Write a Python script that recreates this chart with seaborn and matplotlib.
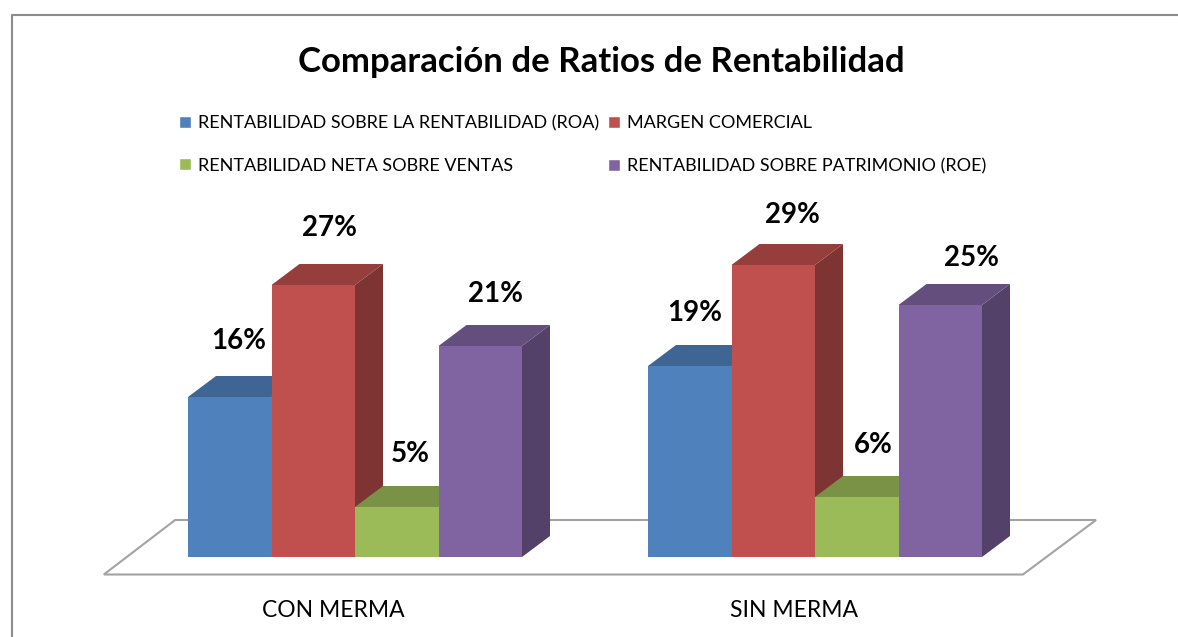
import matplotlib
matplotlib.use("Agg")
import matplotlib.pyplot as plt
from matplotlib.colors import to_rgb
from matplotlib.lines import Line2D
from matplotlib.patches import Polygon
import pandas as pd
import seaborn as sns

groups = ["CON MERMA", "SIN MERMA"]
series = [
    "RENTABILIDAD SOBRE LA RENTABILIDAD (ROA)",
    "MARGEN COMERCIAL",
    "RENTABILIDAD NETA SOBRE VENTAS",
    "RENTABILIDAD SOBRE PATRIMONIO (ROE)",
]
roa = [16.0, 19.1]
margen = [27.2, 29.2]
neta = [5.0, 6.0]
roe = [21.1, 25.2]
colors = ["#4F81BD", "#C0504D", "#9BBB59", "#8064A2"]

W, H = 1178, 637
PX_X = 460.0   # pixels per category
PX_Y = 10.0    # pixels per percent
X0, Y0 = 355.0, 557.0  # pixel position of first group centre and of zero
DX, DY = 28 / PX_X, 21 / PX_Y  # bar depth in data units

# label shift from the bar's front top centre, in pixels
nudge = [[(9, -56), (5, -53)], [(16, -57), (19, -50)],
         [(14, -53), (17, -52)], [(15, -52), (31, -47)]]


def shade(color, factor):
    return tuple(c * factor for c in to_rgb(color))


sns.set_theme(style="white")
plt.rcParams["font.family"] = ["Lato", "DejaVu Sans"]

rows = []
for name, vals in zip(series, [roa, margen, neta, roe]):
    for g, v in zip(groups, vals):
        rows.append({"grupo": g, "serie": name, "valor": v})
df = pd.DataFrame(rows)

fig = plt.figure(figsize=(W / 100, H / 100), dpi=100)
left, right, top, bottom = 12, W, 15, 590
ax = fig.add_axes([left / W, 1 - bottom / H, (right - left) / W, (bottom - top) / H])
ax.patch.set_alpha(0)

sns.barplot(data=df, x="grupo", y="valor", hue="serie", hue_order=series,
            palette=colors, width=334 / PX_X, gap=0, saturation=1, ax=ax)

ax.set_xlim((left - X0) / PX_X, (right - X0) / PX_X)
ax.set_ylim((Y0 - bottom) / PX_Y, (Y0 - top) / PX_Y)

# floor
floor = Polygon([(-0.546, -1.75), (-0.391, 3.7), (1.611, 3.7), (1.452, -1.75)],
                closed=True, facecolor="white", edgecolor="#A3A3A3", linewidth=1.5,
                zorder=1, clip_on=False)
ax.add_patch(floor)

for h, container in enumerate(ax.containers):
    z = 3 + h
    for k, bar in enumerate(container):
        x0, w, v = bar.get_x(), bar.get_width(), bar.get_height()
        x1 = x0 + w
        bar.set_zorder(z + 0.2)
        bar.set_edgecolor("none")
        ax.add_patch(Polygon([(x1, 0), (x1 + DX, DY), (x1 + DX, v + DY), (x1, v)],
                             facecolor=shade(colors[h], 0.65), edgecolor="none", zorder=z))
        ax.add_patch(Polygon([(x0, v), (x0 + DX, v + DY), (x1 + DX, v + DY), (x1, v)],
                             facecolor=shade(colors[h], 0.78), edgecolor="none", zorder=z + 0.1))
        nx, ny = nudge[h][k]
        ax.text(x0 + w / 2 + nx / PX_X, v - ny / PX_Y, f"{v:.0f}%", ha="center", va="center",
                fontsize=20, fontweight="bold", color="black", zorder=10)

# frame of the chart area, only left and top show up
fig.add_artist(Line2D([12 / W, 12 / W, 1], [0, 1 - 15 / H, 1 - 15 / H],
                      color="#8C8C8C", linewidth=1.5))

fig.text(601.5 / W, 1 - 62 / H, "Comparación de Ratios de Rentabilidad", ha="center",
         va="center", fontsize=25, fontweight="bold", color="black")

# two legends so both rows line up, the parentheses change the row height
handles, labels = ax.get_legend_handles_labels()
leg_kw = dict(frameon=False, loc="upper left", bbox_transform=fig.transFigure, fontsize=13,
              handlelength=0.66, handleheight=0.66, handletextpad=0.4, borderpad=0,
              borderaxespad=0, labelcolor="black")
leg1 = ax.legend([handles[0], handles[2]], [labels[0], labels[2]], labelspacing=1.47,
                 bbox_to_anchor=(179 / W, 1 - 115 / H), **leg_kw)
ax.add_artist(leg1)
ax.legend([handles[1], handles[3]], [labels[1], labels[3]], labelspacing=1.52,
          bbox_to_anchor=(608 / W, 1 - 115 / H), **leg_kw)

ax.set_xticks([0 - 22 / PX_X, 1 - 21 / PX_X], groups)
ax.tick_params(axis="x", length=0, pad=7.5, labelsize=16.5, labelcolor="black")
ax.set_yticks([])
ax.set_xlabel("")
ax.set_ylabel("")
sns.despine(ax=ax, left=True, bottom=True)

fig.savefig("out.png", dpi=100, facecolor="white")
